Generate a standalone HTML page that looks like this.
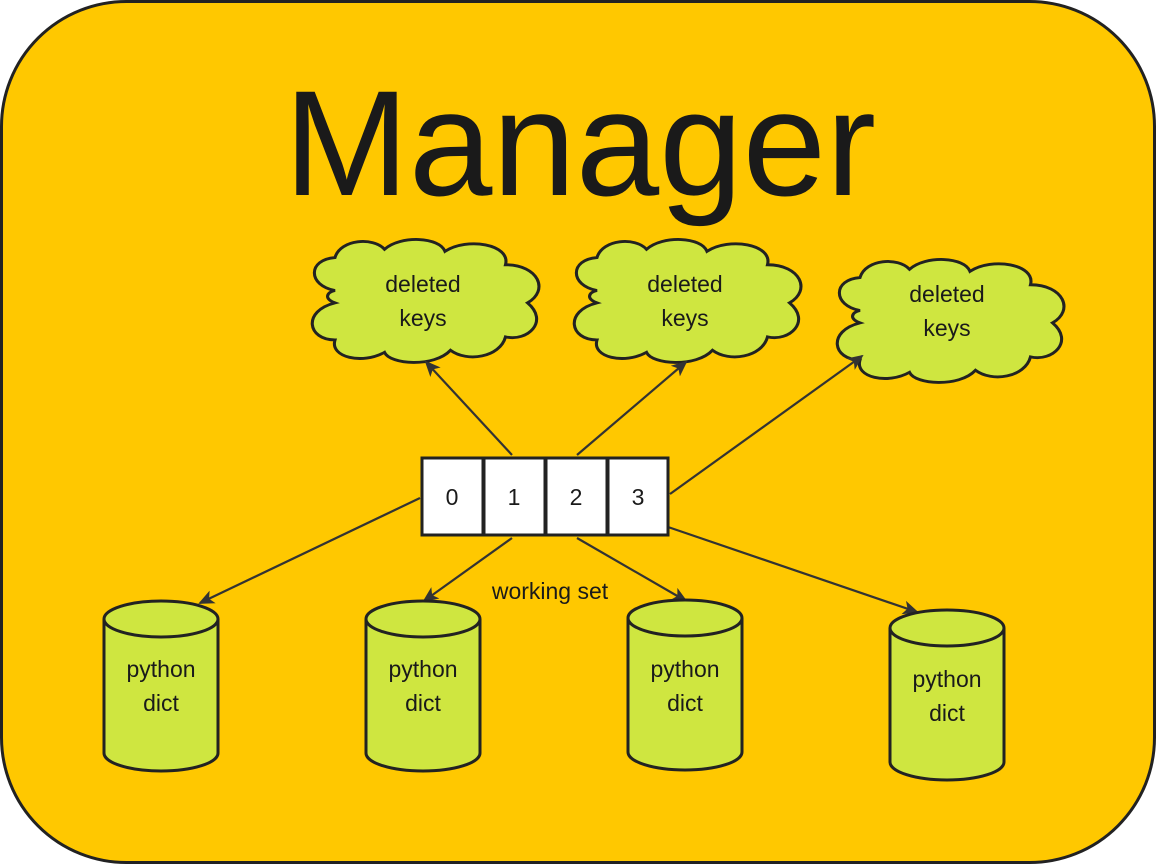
<!DOCTYPE html>
<html><head><style>
html,body{margin:0;padding:0;background:#fff;}
svg{display:block;}
text{font-family:"Liberation Sans",sans-serif;fill:#1a1a1a;}
</style></head><body>
<svg width="1156" height="864" viewBox="0 0 1156 864">
<defs>
<marker id="a" markerWidth="16" markerHeight="16" refX="14" refY="8" orient="auto" markerUnits="userSpaceOnUse" viewBox="0 0 16 16">
<path d="M0,1 L16,8 L0,15 L4,8 Z" fill="#333"/>
</marker>
<g id="cloud">
<path d="M30,50 C5,45 5,20 30,18 C35,0 65,-2 75,10 C90,-4 125,-2 130,12 C150,-2 190,5 185,25 C215,25 225,50 205,62 C225,80 205,100 185,95 C180,115 150,120 135,108 C120,125 80,122 75,110 C55,122 25,115 30,98 C5,98 0,70 30,62 C20,58 22,52 30,50 Z" fill="#cfe640" stroke="#222" stroke-width="2.8" transform="scale(1.1,1.03)"/>
</g>
<g id="cyl">
<path d="M0,18 L0,152 A57,18 0 0 0 114,152 L114,18" fill="#cfe640" stroke="#222" stroke-width="3"/>
<ellipse cx="57" cy="18" rx="57" ry="18" fill="#cfe640" stroke="#222" stroke-width="3"/>
</g>
</defs>
<rect x="1.5" y="1.5" width="1153" height="861" rx="125" ry="125" fill="#ffc800" stroke="#222" stroke-width="3"/>
<text x="580" y="195" font-size="150" text-anchor="middle">Manager</text>

<use href="#cloud" x="302" y="239"/>
<use href="#cloud" x="564" y="239"/>
<use href="#cloud" x="827" y="259"/>
<text x="423" y="292" font-size="23" text-anchor="middle">deleted</text>
<text x="423" y="326" font-size="23" text-anchor="middle">keys</text>
<text x="685" y="292" font-size="23" text-anchor="middle">deleted</text>
<text x="685" y="326" font-size="23" text-anchor="middle">keys</text>
<text x="947" y="302" font-size="23" text-anchor="middle">deleted</text>
<text x="947" y="336" font-size="23" text-anchor="middle">keys</text>

<g stroke="#333" stroke-width="2.2" fill="none" marker-end="url(#a)">
<line x1="512" y1="455" x2="426" y2="362"/>
<line x1="577" y1="455" x2="686" y2="362"/>
<line x1="670" y1="494" x2="862" y2="356"/>
<line x1="420" y1="498" x2="200" y2="603"/>
<line x1="512" y1="538" x2="424" y2="601"/>
<line x1="577" y1="538" x2="686" y2="601"/>
<line x1="668" y1="527" x2="917" y2="612"/>
</g>

<g fill="#fff" stroke="#222" stroke-width="3">
<rect x="422" y="458" width="61" height="77"/>
<rect x="484" y="458" width="61" height="77"/>
<rect x="546" y="458" width="61" height="77"/>
<rect x="608" y="458" width="60" height="77"/>
</g>
<text x="452" y="505" font-size="23" text-anchor="middle">0</text>
<text x="514" y="505" font-size="23" text-anchor="middle">1</text>
<text x="576" y="505" font-size="23" text-anchor="middle">2</text>
<text x="638" y="505" font-size="23" text-anchor="middle">3</text>

<text x="550" y="599" font-size="23" text-anchor="middle">working set</text>

<use href="#cyl" x="104" y="601"/>
<use href="#cyl" x="366" y="601"/>
<use href="#cyl" x="628" y="600"/>
<use href="#cyl" x="890" y="610"/>
<text x="161" y="677" font-size="23" text-anchor="middle">python</text>
<text x="161" y="711" font-size="23" text-anchor="middle">dict</text>
<text x="423" y="677" font-size="23" text-anchor="middle">python</text>
<text x="423" y="711" font-size="23" text-anchor="middle">dict</text>
<text x="685" y="677" font-size="23" text-anchor="middle">python</text>
<text x="685" y="711" font-size="23" text-anchor="middle">dict</text>
<text x="947" y="687" font-size="23" text-anchor="middle">python</text>
<text x="947" y="721" font-size="23" text-anchor="middle">dict</text>
</svg>
</body></html>
